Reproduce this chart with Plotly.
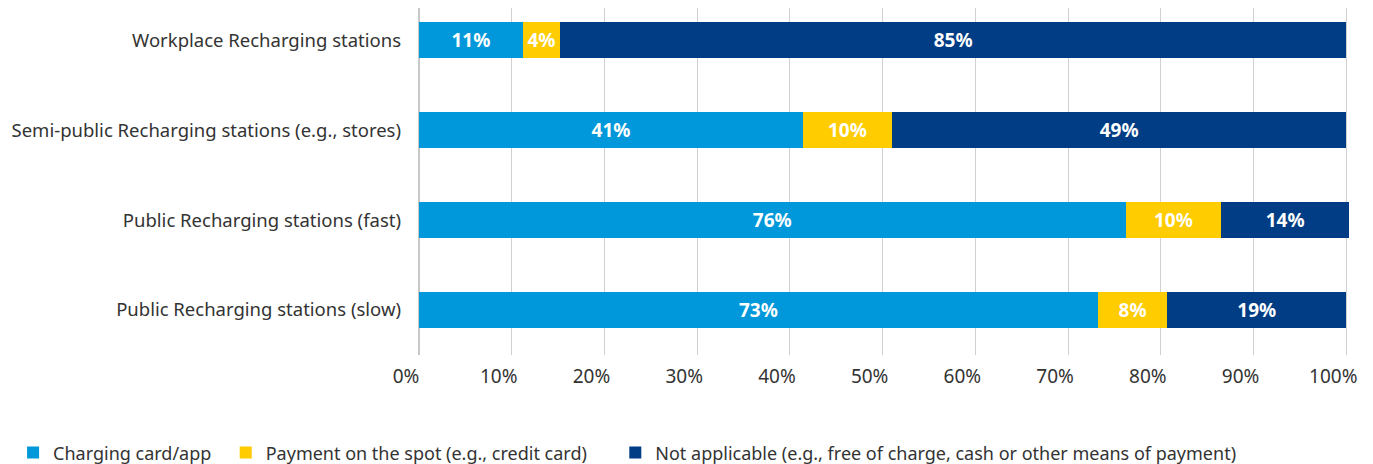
import plotly.graph_objects as go

STATIONS = [
    "Public Recharging stations (slow)",
    "Public Recharging stations (fast)",
    "Semi-public Recharging stations (e.g., stores)",
    "Workplace Recharging stations",
]
CARD_APP = [73.2, 76.2, 41.4, 11.2]
ON_SPOT = [7.5, 10.3, 9.6, 4.0]
NOT_APPLICABLE = [19.3, 13.8, 49.0, 84.8]
TICKS = [0, 10, 20, 30, 40, 50, 60, 70, 80, 90, 100]

SERIES = [
    ("Charging card/app\u00a0\u00a0", CARD_APP, "#0098DA"),
    ("Payment on the spot (e.g., credit card)\u00a0\u00a0\u00a0\u00a0\u00a0", ON_SPOT, "#FFCC00"),
    ("Not applicable (e.g., free of charge, cash or other means of payment)", NOT_APPLICABLE, "#003D85"),
]

FONT = "Noto Sans, Open Sans, sans-serif"

fig = go.Figure()

for name, values, color in SERIES:
    fig.add_trace(go.Bar(
        y=STATIONS,
        x=values,
        name=name,
        orientation="h",
        width=0.4,
        marker=dict(color=color, line=dict(width=0)),
        text=[f"{round(v)}%" for v in values],
        textposition="inside",
        insidetextanchor="middle",
        textangle=0,
        textfont=dict(family=FONT, size=19, color="white", weight="bold"),
    ))

# the page adds an 8px body margin, so the figure is offset by (8, 8)
fig.update_layout(
    barmode="stack",
    width=1365,
    height=456,
    plot_bgcolor="white",
    paper_bgcolor="white",
    margin=dict(l=411, r=23, t=0, b=109, autoexpand=False),
    font=dict(family=FONT, size=18, color="#333333"),
    uniformtext=dict(minsize=10, mode="show"),
    legend=dict(
        orientation="h",
        x=-0.436, xanchor="left",
        y=-0.282, yanchor="middle",
        font=dict(size=18, color="#333333"),
        traceorder="normal",
        itemclick=False,
    ),
    showlegend=True,
)

fig.update_xaxes(
    range=[0, 100.4],
    tickvals=TICKS,
    ticktext=[f"{t}%" for t in TICKS],
    tickfont=dict(size=19, color="#333333"),
    showgrid=True,
    gridcolor="#D0D0D0",
    gridwidth=1,
    zeroline=True,
    zerolinecolor="#C8C8C8",
    ticks="",
    ticklabelstandoff=8,
    ticklabelshift=-13,
    automargin=False,
)

fig.update_yaxes(
    range=[-0.5, 3.356],
    tickfont=dict(size=18.5, color="#333333"),
    ticks="",
    ticklabelstandoff=17,
    showgrid=False,
    automargin=False,
)

fig.write_html("out.html")
